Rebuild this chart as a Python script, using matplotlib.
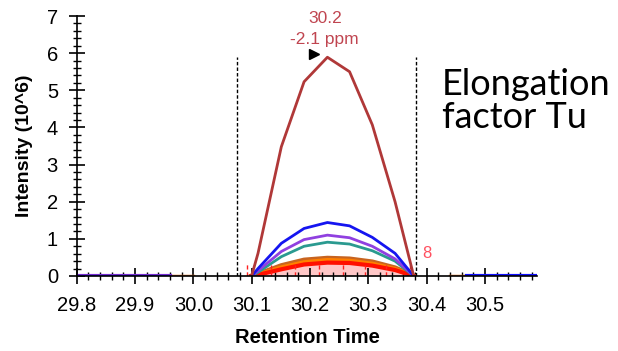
import matplotlib
matplotlib.use("Agg")
import matplotlib.pyplot as plt
from matplotlib.ticker import MultipleLocator

plt.rcParams['font.family'] = ['Liberation Sans', 'DejaVu Sans']

# sampled retention times across the peak
rt = [30.100, 30.111, 30.151, 30.190, 30.230, 30.268, 30.307, 30.346, 30.378]

maroon = [0.0, 0.61, 3.48, 5.23, 5.89, 5.50, 4.07, 2.00, 0.0]
blue = [0.0, 0.20, 0.88, 1.28, 1.44, 1.35, 1.04, 0.61, 0.0]
purple = [0.0, 0.14, 0.66, 0.98, 1.10, 1.03, 0.80, 0.46, 0.0]
teal = [0.0, 0.10, 0.52, 0.80, 0.91, 0.86, 0.68, 0.40, 0.0]
brown = [0.0, 0.05, 0.28, 0.43, 0.48, 0.46, 0.38, 0.22, 0.0]
orange = [0.0, 0.04, 0.23, 0.37, 0.43, 0.41, 0.33, 0.19, 0.0]
red = [0.0, 0.03, 0.18, 0.31, 0.36, 0.35, 0.28, 0.16, 0.0]

# integration drop lines
drop_rt = [30.092, 30.133, 30.175, 30.216, 30.256, 30.295, 30.331, 30.372]
drop_h = 0.36

# flat baseline pieces outside the window
base_left = [29.80, 29.96]
base_left_or = [29.93, 30.00]
base_right_or = [30.44, 30.47]
base_right = [30.47, 30.59]

peak_bounds = [30.0755, 30.382]
apex_rt = 30.2305
apex_h = 5.89

fig = plt.figure(figsize=(6.18, 3.51), dpi=100)
ax = fig.add_axes([0.124, 0.2137, 0.7455, 0.7407])

ax.plot(base_left_or, [0, 0], color='#e07020', lw=2.5)
ax.plot(base_left, [0, 0], color='#7a2fd0', lw=3)
ax.plot(base_left, [0, 0], color='#1010ff', lw=1.5)
ax.plot(base_right_or, [0, 0], color='#e07020', lw=2.5)
ax.plot(base_right, [0, 0], color='#1010ff', lw=3)

ax.fill_between(rt, red, color='#ffb0b0', alpha=0.7, lw=0)
ax.plot(rt, brown, color='#c86420', lw=3.5)
ax.plot(rt, orange, color='#ff8000', lw=3)
ax.plot(rt, red, color='#ff1000', lw=3)
for x in drop_rt:
    ax.plot([x, x], [0, drop_h], color='#ff2020', lw=1, ls=(0, (3, 2)))
ax.plot(rt, teal, color='#2a9a90', lw=2)
ax.plot(rt, purple, color='#9040e0', lw=2)
ax.plot(rt, blue, color='#1515f0', lw=2)
ax.plot(rt, maroon, color='#b03838', lw=2)

for x in peak_bounds:
    ax.plot([x, x], [0, apex_h], color='black', lw=1, ls=(0, (2.5, 1.5)))

ax.plot(30.207, apex_h + 0.1, marker='>', color='black', ms=7)
ax.text(apex_rt - 0.005, 6.93, '30.2', color='#c04550', fontsize=12.5, ha='center', va='center')
ax.text(apex_rt - 0.005, 6.37, '-2.1 ppm', color='#c04550', fontsize=12.5, ha='center', va='center')
ax.text(30.4, 0.6, '8', color='#ff5060', fontsize=12, ha='center', va='center')

fig.text(0.715, 0.73, 'Elongation', fontsize=26, family='Lato', ha='left', va='baseline')
fig.text(0.715, 0.636, 'factor Tu', fontsize=26, family='Lato', ha='left', va='baseline')

ax.set_xlim(29.8, 30.59)
ax.set_ylim(0, 7)
ax.xaxis.set_minor_locator(MultipleLocator(0.02))
ax.yaxis.set_major_locator(MultipleLocator(1))
ax.yaxis.set_minor_locator(MultipleLocator(0.2))
ax.set_xticks([29.8, 29.9, 30.0, 30.1, 30.2, 30.3, 30.4, 30.5])
ax.set_xticklabels(['29.8', '29.9', '30.0', '30.1', '30.2', '30.3', '30.4', '30.5'])
ax.tick_params(which='major', direction='inout', length=11, width=1.2, labelsize=14.5, pad=8)
ax.tick_params(which='minor', direction='inout', length=6, width=1)
ax.tick_params(axis='x', which='major', pad=9)
for s in ['top', 'right']:
    ax.spines[s].set_visible(False)
ax.spines['left'].set_linewidth(1.2)
ax.spines['bottom'].set_linewidth(1.2)

ax.set_xlabel('Retention Time', fontsize=14.5, fontweight='bold', labelpad=9)
ax.set_ylabel('Intensity (10^6)', fontsize=14, fontweight='bold', labelpad=10)

fig.savefig('out.png', dpi=100)
